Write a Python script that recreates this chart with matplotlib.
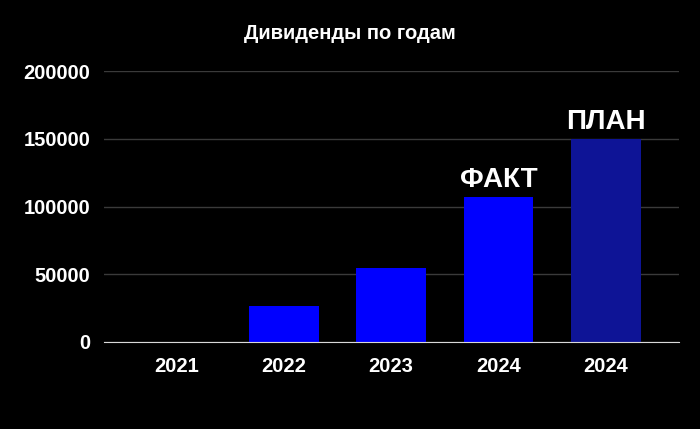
import numpy as np
import matplotlib
matplotlib.use("Agg")
import matplotlib.pyplot as plt

# данные
years = ["2021", "2022", "2023", "2024", "2024"]
dividends = [0, 26200, 54500, 107000, 150000]
bar_colors = ["#0000ff", "#0000ff", "#0000ff", "#0000ff", "#0e1496"]
notes = {3: "ФАКТ", 4: "ПЛАН"}

plt.rcParams["font.family"] = ["Liberation Sans", "DejaVu Sans"]
plt.rcParams["font.weight"] = "bold"

fig = plt.figure(figsize=(7, 4.29), dpi=100, facecolor="black")
ax = fig.add_axes([0.149, 0.203, 0.821, 0.631], facecolor="black")

x = np.arange(len(years))
bars = ax.bar(x, dividends, width=0.65, color=bar_colors, zorder=3)

# подписи ФАКТ / ПЛАН
for i, txt in notes.items():
    ax.annotate(txt, (x[i], dividends[i]), xytext=(0, 3), textcoords="offset points",
                ha="center", va="bottom", color="white", fontsize=20,
                fontweight="bold")

ax.set_ylim(0, 200000)
ax.set_xlim(-0.67, 4.68)
ax.set_yticks([0, 50000, 100000, 150000, 200000])
ax.set_xticks(x)
ax.set_xticklabels(years)

ax.grid(axis="y", color="#3a3a3a", linewidth=1, zorder=0)
for s in ["top", "right", "left"]:
    ax.spines[s].set_visible(False)
ax.spines["bottom"].set_color("#d9d9d9")
ax.spines["bottom"].set_zorder(4)
ax.tick_params(length=0, colors="white", labelsize=14.5, pad=10)
ax.tick_params(axis="x", pad=11)

fig.text(0.5, 0.922, "Дивиденды по годам", ha="center", va="center",
         color="white", fontsize=14.5, fontweight="bold")

fig.savefig("out.png", dpi=100, facecolor="black")
